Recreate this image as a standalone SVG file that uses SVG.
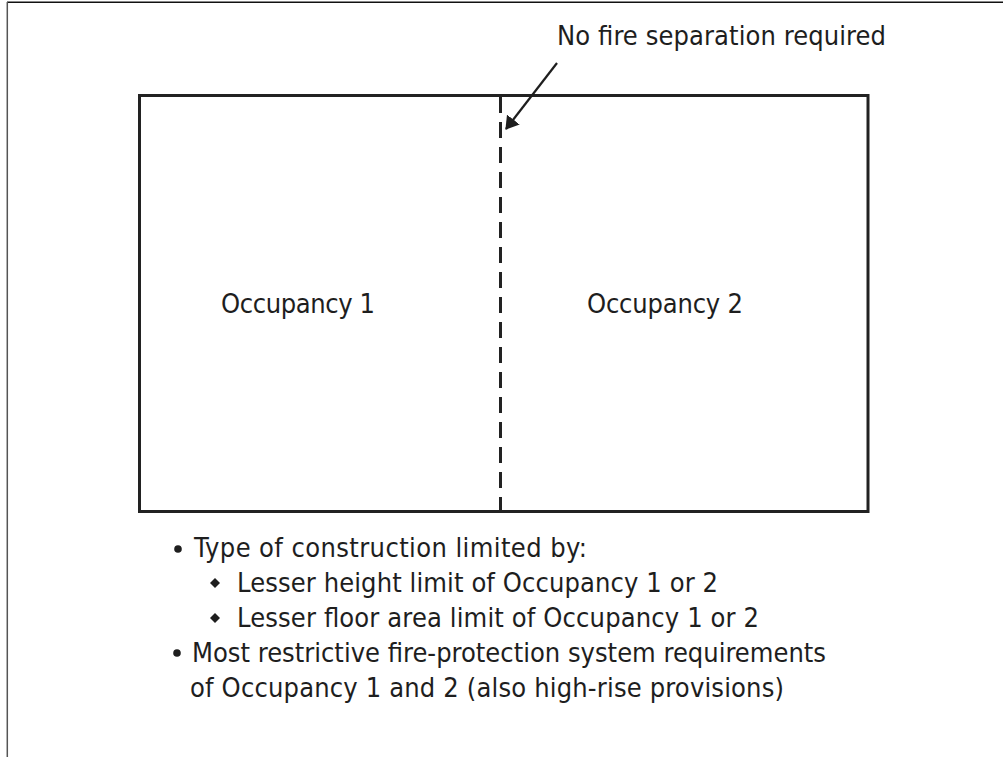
<svg xmlns="http://www.w3.org/2000/svg" width="1003" height="757" viewBox="0 0 1003 757">
<style>
.t{font-family:"DejaVu Sans Condensed","DejaVu Sans",sans-serif;font-stretch:condensed;font-size:27px;fill:#1e1e1e}
.frame{fill:none;stroke:#555;stroke-width:1.5}
.wall{fill:none;stroke:#222;stroke-width:3}
.sep{stroke:#222;stroke-width:3;stroke-dasharray:16 9}
.lead{stroke:#1e1e1e;stroke-width:2.2;fill:none}
</style>
<defs>
<marker id="ah" viewBox="0 0 13 16" refX="12" refY="8" markerWidth="13" markerHeight="16" markerUnits="userSpaceOnUse" orient="auto">
<path d="M0,0 L13,8 L0,16 z" fill="#1e1e1e"/>
</marker>
</defs>
<rect width="1003" height="757" fill="#fff"/>
<g id="frame">
<line class="frame" x1="7" y1="2.3" x2="1003" y2="2.3" style="stroke:#111"/>
<line class="frame" x1="7.3" y1="2" x2="7.3" y2="757"/>
</g>
<g id="building">
<rect class="wall" x="139.5" y="95.5" width="728.5" height="416"/>
</g>
<g id="occupancy1"><text class="t" x="221" y="313" textLength="154">Occupancy 1</text></g>
<g id="occupancy2"><text class="t" x="587" y="313" textLength="156">Occupancy 2</text></g>
<g id="label"><text class="t" x="557" y="45" textLength="329">No fire separation required</text></g>
<g id="connectors">
<line class="sep" x1="500.5" y1="97" x2="500.5" y2="511"/>
<line class="lead" x1="557" y1="63" x2="506" y2="129" marker-end="url(#ah)"/>
</g>
<g id="notes">
<circle cx="178" cy="549" r="3.8" fill="#1e1e1e"/>
<text class="t" x="194" y="557" textLength="393">Type of construction limited by:</text>
<path d="M215,578 L220,583 L215,588 L210,583 z" fill="#1e1e1e"/>
<text class="t" x="237" y="592" textLength="481">Lesser height limit of Occupancy 1 or 2</text>
<path d="M215,613 L220,618 L215,623 L210,618 z" fill="#1e1e1e"/>
<text class="t" x="237" y="627" textLength="522">Lesser floor area limit of Occupancy 1 or 2</text>
<circle cx="177" cy="653" r="3.8" fill="#1e1e1e"/>
<text class="t" x="192" y="662" textLength="634">Most restrictive fire-protection system requirements</text>
<text class="t" x="190" y="697" textLength="594">of Occupancy 1 and 2 (also high-rise provisions)</text>
</g>
</svg>
